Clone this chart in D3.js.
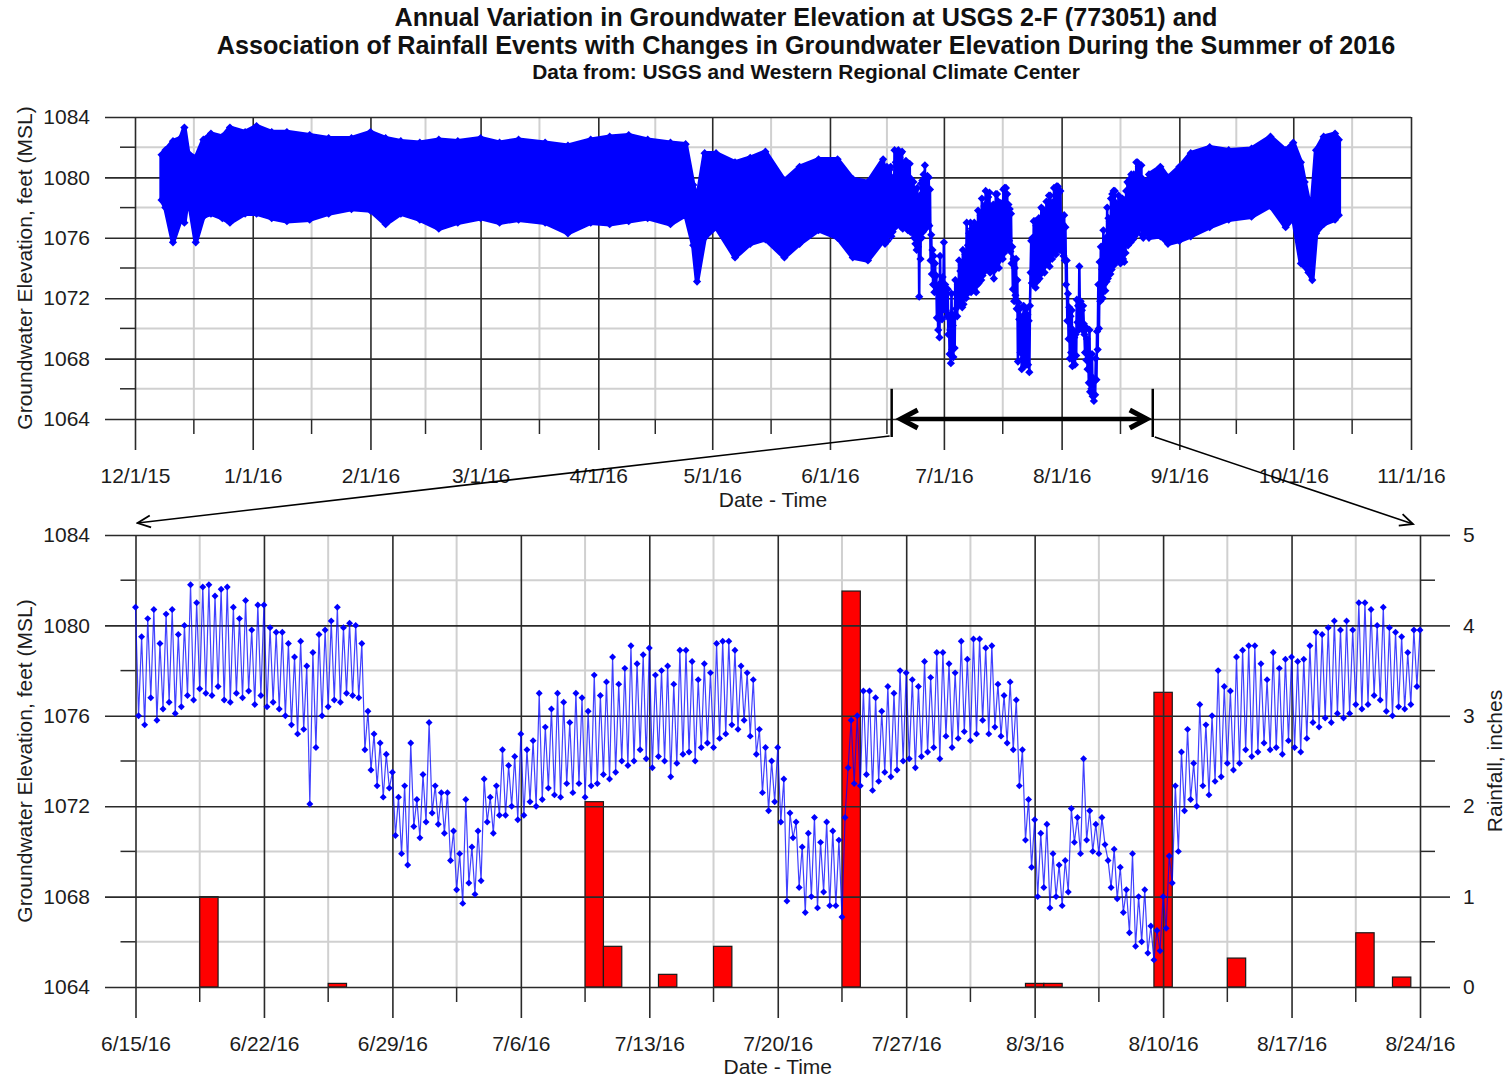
<!DOCTYPE html>
<html><head><meta charset="utf-8">
<script src="https://cdn.jsdelivr.net/npm/d3@7"></script>
<style>
body{margin:0;background:#fff;}
svg{display:block;}
</style></head><body>
<svg id="chart" width="1512" height="1080"></svg>
<script>
// ---------------- DATA ----------------
const titleLines = [
  "Annual Variation in Groundwater Elevation at USGS 2-F (773051) and",
  "Association of Rainfall Events with Changes in Groundwater Elevation During the Summer of 2016"
];
const subtitle = "Data from: USGS and Western Regional Climate Center";
const yTitle = "Groundwater Elevation, feet (MSL)";
const xTitle = "Date - Time";
const rainTitle = "Rainfall, inches";

const topTickDates = ["2015-12-01","2016-01-01","2016-02-01","2016-03-01","2016-04-01","2016-05-01",
  "2016-06-01","2016-07-01","2016-08-01","2016-09-01","2016-10-01","2016-11-01"];
const topTickLabels = ["12/1/15","1/1/16","2/1/16","3/1/16","4/1/16","5/1/16","6/1/16","7/1/16",
  "8/1/16","9/1/16","10/1/16","11/1/16"];
const botTickDates = ["2016-06-15","2016-06-22","2016-06-29","2016-07-06","2016-07-13","2016-07-20",
  "2016-07-27","2016-08-03","2016-08-10","2016-08-17","2016-08-24"];
const botTickLabels = ["6/15/16","6/22/16","6/29/16","7/6/16","7/13/16","7/20/16","7/27/16",
  "8/3/16","8/10/16","8/17/16","8/24/16"];
const elevTicks = [1064, 1068, 1072, 1076, 1080, 1084];
const rainTicks = [0, 1, 2, 3, 4, 5];

// Annual record outside the summer window: daily high / low envelope
const envDates = ["2015-12-08","2015-12-09","2015-12-11","2015-12-13","2015-12-14","2015-12-15","2015-12-17",
  "2015-12-19","2015-12-21","2015-12-24","2015-12-26","2015-12-30","2016-01-02","2016-01-06","2016-01-10",
  "2016-01-16","2016-01-21","2016-01-27","2016-02-01","2016-02-05","2016-02-09","2016-02-14","2016-02-19",
  "2016-02-24","2016-03-01","2016-03-06","2016-03-11","2016-03-18","2016-03-24","2016-03-30","2016-04-04",
  "2016-04-09","2016-04-14","2016-04-20","2016-04-24","2016-04-26","2016-04-27","2016-04-29","2016-05-02",
  "2016-05-07","2016-05-11","2016-05-15","2016-05-20","2016-05-24","2016-05-29","2016-06-03","2016-06-07",
  "2016-06-11","2016-06-15",
  "2016-08-24","2016-08-27","2016-08-29","2016-09-01","2016-09-04","2016-09-09","2016-09-14","2016-09-20",
  "2016-09-25","2016-09-29","2016-10-01","2016-10-03","2016-10-04","2016-10-05","2016-10-06","2016-10-07",
  "2016-10-09","2016-10-12","2016-10-13"];
const envHigh = [1081.5,1081.8,1082.4,1082.6,1083.3,1081.6,1081.3,
  1082.5,1082.9,1082.7,1083.3,1083.0,1083.4,1083.0,1083.0,
  1082.8,1082.6,1082.6,1083.0,1082.6,1082.4,1082.3,1082.5,
  1082.4,1082.6,1082.3,1082.5,1082.3,1082.1,1082.5,1082.7,
  1082.8,1082.5,1082.3,1082.2,1079.5,1078.5,1081.6,1081.6,
  1081.0,1081.3,1081.7,1079.8,1080.7,1081.2,1081.2,1079.9,
  1079.7,1081.2,
  1080.2,1080.7,1080.0,1080.7,1081.6,1082.0,1081.8,1081.9,
  1082.7,1081.8,1082.3,1081.0,1079.7,1078.5,1078.5,1081.8,
  1082.7,1082.9,1082.5];
const envLow = [1078.5,1078.0,1075.7,1077.2,1077.0,1078.8,1075.7,
  1077.4,1077.6,1077.3,1077.0,1077.6,1077.6,1077.3,1077.1,
  1077.2,1077.6,1077.9,1077.8,1076.9,1077.6,1077.2,1076.6,
  1077.0,1077.3,1077.0,1077.2,1077.0,1076.3,1077.0,1076.9,
  1077.1,1077.3,1076.9,1077.5,1075.5,1073.1,1076.0,1076.7,
  1074.7,1075.6,1075.9,1074.7,1075.6,1076.5,1076.0,1074.7,
  1074.5,1075.8,
  1076.0,1076.1,1075.6,1075.8,1076.1,1076.7,1077.2,1077.4,
  1078.1,1076.7,1077.3,1074.3,1074.1,1073.7,1073.2,1076.3,
  1076.9,1077.2,1077.5];

// Summer record, 6/15/16 00:00 onward, one reading every 4 hours
const summerStart = "2016-06-15T00:00";
const summerStepHours = 4;
const summerElev = [
  1080.8,1076.0,1079.5,1075.6,1080.3,1076.8,  1080.7,1075.8,1079.2,1076.3,1080.5,1076.6,
  1080.7,1076.1,1079.6,1076.4,1080.0,1076.9,  1081.8,1076.7,1081.0,1077.2,1081.7,1077.0,
  1081.8,1076.9,1081.3,1077.3,1081.6,1076.7,  1081.7,1076.6,1080.8,1077.0,1080.3,1076.8,
  1081.1,1077.1,1079.8,1076.5,1080.9,1076.9,  1080.9,1076.4,1079.9,1076.6,1079.7,1076.3,
  1079.7,1076.0,1079.2,1075.6,1078.6,1075.2,  1079.3,1075.4,1078.2,1072.1,1078.8,1074.6,
  1079.6,1076.0,1079.8,1076.4,1080.2,1076.7,  1080.8,1076.6,1079.9,1077.0,1080.1,1076.9,
  1080.0,1076.8,1079.2,1074.5,1076.2,1073.6,  1075.2,1072.9,1074.8,1072.4,1074.3,1072.8,
  1073.5,1070.7,1072.4,1069.9,1072.9,1069.4,  1074.8,1071.1,1072.3,1070.6,1073.4,1071.3,
  1075.7,1071.7,1072.9,1071.2,1072.6,1070.8,  1072.6,1069.6,1070.9,1068.3,1069.9,1067.7,
  1072.3,1068.6,1070.2,1068.1,1070.9,1068.7,  1073.2,1071.3,1072.4,1070.8,1072.9,1071.6,
  1074.5,1071.6,1073.8,1072.0,1074.2,1071.4,  1075.2,1071.6,1074.5,1072.2,1074.9,1072.0,
  1077.0,1072.3,1075.5,1072.8,1076.3,1072.5,  1077.0,1072.4,1076.6,1073.0,1075.7,1072.6,
  1077.0,1073.0,1076.8,1072.4,1076.2,1072.9,  1077.8,1073.0,1076.9,1073.4,1077.5,1073.2,
  1078.6,1073.5,1077.4,1074.0,1078.1,1073.8,  1079.1,1074.0,1078.3,1074.5,1078.7,1074.1,
  1079.0,1073.7,1077.8,1074.2,1078.0,1074.0,  1078.2,1073.3,1077.4,1073.9,1078.9,1074.3,
  1078.9,1074.4,1078.4,1074.0,1077.6,1074.6,  1078.3,1074.8,1077.9,1074.6,1079.2,1075.0,
  1079.3,1075.2,1079.3,1075.6,1078.9,1075.4,  1078.2,1075.8,1077.9,1075.1,1077.6,1074.3,
  1075.4,1072.6,1074.6,1071.8,1074.0,1072.2,  1074.6,1071.3,1073.2,1067.8,1071.7,1070.6,
  1071.3,1068.4,1070.2,1067.3,1070.8,1068.0,  1071.5,1067.5,1070.4,1068.2,1071.3,1067.6,
  1070.9,1067.6,1070.5,1067.1,1071.5,1073.7,  1075.8,1073.0,1076.0,1072.9,1077.1,1073.4,
  1077.1,1072.7,1076.8,1073.1,1076.2,1073.5,  1077.3,1073.3,1077.0,1073.6,1078.0,1074.0,
  1077.9,1074.1,1077.6,1073.7,1077.3,1074.2,  1078.4,1074.4,1077.7,1074.6,1078.8,1074.1,
  1078.8,1075.1,1078.3,1074.6,1077.9,1075.0,  1079.3,1075.3,1078.5,1074.9,1079.4,1075.2,
  1079.4,1075.8,1079.0,1075.2,1079.1,1075.5,  1077.4,1075.1,1076.9,1074.8,1077.5,1074.5,
  1076.7,1072.9,1074.5,1070.5,1072.3,1069.3,  1071.4,1068.0,1070.8,1068.4,1071.2,1067.5,
  1069.9,1068.0,1069.4,1067.6,1069.6,1068.2,  1071.9,1070.4,1071.5,1069.9,1074.1,1070.5,
  1071.8,1070.0,1071.2,1069.9,1071.5,1070.3,  1069.6,1068.4,1070.1,1067.9,1069.3,1067.3,
  1068.3,1066.4,1069.9,1065.8,1068.0,1066.0,  1068.3,1065.5,1066.7,1065.2,1066.5,1065.6,
  1068.0,1066.6,1069.8,1068.6,1072.9,1070.0,  1074.4,1071.8,1075.4,1072.3,1073.9,1072.0,
  1076.5,1072.9,1075.6,1072.5,1076.0,1073.1,  1078.0,1073.3,1077.3,1073.9,1077.1,1073.6,
  1078.6,1073.9,1078.9,1074.5,1079.1,1074.2,  1079.1,1074.4,1078.3,1074.8,1077.6,1074.5,
  1078.8,1074.6,1078.1,1074.3,1078.5,1074.9,  1078.6,1074.6,1078.4,1074.4,1078.5,1075.0,
  1079.1,1075.7,1079.7,1075.5,1079.6,1075.9,  1079.9,1075.7,1080.2,1076.1,1079.8,1075.9,
  1080.2,1076.1,1079.8,1076.5,1081.0,1076.3,  1081.0,1076.5,1080.7,1076.9,1080.0,1076.7,
  1080.8,1076.2,1079.9,1076.0,1079.7,1076.4,  1079.5,1076.3,1078.8,1076.5,1079.8,1077.3,
  1079.8
];

// Daily rainfall (inches)
const rainDates = ["2016-06-19","2016-06-26","2016-07-10","2016-07-11","2016-07-14","2016-07-17",
  "2016-07-24","2016-08-03","2016-08-04","2016-08-10","2016-08-14","2016-08-21","2016-08-23"];
const rainInches = [1.0, 0.04, 2.05, 0.45, 0.14, 0.45, 4.38, 0.04, 0.04, 3.26, 0.32, 0.6, 0.11];

// Zoom window annotated on the annual panel
const zoomSpan = ["2016-06-17T06:00", "2016-08-25T00:00"];

// ---------------- DRAWING ----------------
const FONT = "'Liberation Sans', Arial, Helvetica, sans-serif";
const MAJOR = "#2a2a2a", MINOR = "#d0d0d0", TEXT = "#1c1c1c", BLUE = "#0000ff";
const svg = d3.select("#chart").attr("font-family", FONT);
const pDay = d3.timeParse("%Y-%m-%d");
const pTime = d3.timeParse("%Y-%m-%dT%H:%M");

const T = {l:135, r:1411, t:117, b:419};
const B = {l:135.5, r:1420, t:535, b:987};

const xTop = d3.scaleTime().domain(d3.extent(topTickDates, pDay)).range([T.l, T.r]);
const yTop = d3.scaleLinear().domain(d3.extent(elevTicks)).range([T.b, T.t]);
const xBot = d3.scaleTime().domain(d3.extent(botTickDates, pDay)).range([B.l, B.r]);
const yBot = d3.scaleLinear().domain(d3.extent(elevTicks)).range([B.b, B.t]);
const yRain = d3.scaleLinear().domain(d3.extent(rainTicks)).range([B.b, B.t]);

const midDates = arr => arr.slice(1).map((d, i) => new Date((+arr[i] + +d) / 2));
const midNums = arr => arr.slice(1).map((d, i) => (arr[i] + d) / 2);

// Titles
svg.append("g").selectAll("text").data(titleLines).join("text")
  .attr("x", 806).attr("y", (d, i) => 26 + i * 28)
  .attr("text-anchor", "middle").attr("font-weight", "bold").attr("font-size", 25.2)
  .attr("fill", "#111").text(d => d);
svg.append("text").attr("x", 806).attr("y", 79).attr("text-anchor", "middle")
  .attr("font-weight", "bold").attr("font-size", 20.9).attr("fill", "#111").text(subtitle);

function lightGrid(P, x, y, xDates, yVals, rightTicks) {
  const g = svg.append("g");
  const yMin = midNums(yVals), xMin = midDates(xDates);
  g.selectAll(".hy").data(yMin).join("line").attr("class", "hy")
    .attr("x1", P.l).attr("x2", P.r).attr("y1", d => y(d)).attr("y2", d => y(d))
    .attr("stroke", MINOR).attr("stroke-width", 2);
  g.selectAll(".vx").data(xMin).join("line").attr("class", "vx")
    .attr("x1", d => x(d)).attr("x2", d => x(d)).attr("y1", P.t).attr("y2", P.b)
    .attr("stroke", MINOR).attr("stroke-width", 2);
  g.selectAll(".ty").data(yMin).join("line").attr("class", "ty")
    .attr("x1", P.l - 15).attr("x2", P.l).attr("y1", d => y(d)).attr("y2", d => y(d))
    .attr("stroke", MAJOR).attr("stroke-width", 1.5);
  if (rightTicks) g.selectAll(".tyr").data(yMin).join("line").attr("class", "tyr")
    .attr("x1", P.r).attr("x2", P.r + 15).attr("y1", d => y(d)).attr("y2", d => y(d))
    .attr("stroke", MAJOR).attr("stroke-width", 1.5);
  g.selectAll(".tx").data(xMin).join("line").attr("class", "tx")
    .attr("x1", d => x(d)).attr("x2", d => x(d)).attr("y1", P.b).attr("y2", P.b + 15)
    .attr("stroke", MAJOR).attr("stroke-width", 1.5);
}

function styleAxis(g) {
  g.attr("font-family", FONT).attr("font-size", 21);
  g.select(".domain").remove();
  g.selectAll(".tick line").attr("stroke", MAJOR).attr("stroke-width", 1.6);
  g.selectAll(".tick text").attr("fill", TEXT);
}

function majorAxes(P, x, y, xDates, xLabels, yVals) {
  const xd = xDates.map(pDay);
  svg.append("g").attr("transform", `translate(0,${P.t})`)
    .call(d3.axisBottom(x).tickValues(xd).tickSize(P.b + 31 - P.t).tickPadding(18)
      .tickFormat((d, i) => xLabels[i]))
    .call(styleAxis);
  svg.append("g").attr("transform", `translate(${P.r},0)`)
    .call(d3.axisLeft(y).tickValues(yVals).tickSize(P.r - 105).tickPadding(15).tickFormat(d3.format("d")))
    .call(styleAxis);
}

// ---- Top panel ----
lightGrid(T, xTop, yTop, topTickDates.map(pDay), elevTicks, false);
majorAxes(T, xTop, yTop, topTickDates, topTickLabels, elevTicks);

const summerT0 = pTime(summerStart);
const summerPts = summerElev.map((v, i) => ({t: d3.timeHour.offset(summerT0, i * summerStepHours), v}));
const summerEnd = summerPts[summerPts.length - 1].t;
const envPts = envDates.map((d, i) => ({t: pDay(d), hi: envHigh[i], lo: envLow[i]}));
const envSegs = [envPts.filter(d => d.t <= summerT0), envPts.filter(d => d.t >= summerEnd)];

const envArea = d3.area().x(d => xTop(d.t)).y0(d => yTop(d.lo)).y1(d => yTop(d.hi));
svg.append("g").selectAll("path").data(envSegs).join("path")
  .attr("d", envArea).attr("fill", BLUE).attr("stroke", BLUE)
  .attr("stroke-width", 4.5).attr("stroke-linejoin", "round");
// markers along the envelope edges
const edgePts = envPts.flatMap(d => [{t: d.t, v: d.hi}, {t: d.t, v: d.lo}]);
const diamondTop = d3.symbol().type(d3.symbolSquare).size(34);
svg.append("g").selectAll("path").data(edgePts).join("path")
  .attr("d", diamondTop).attr("fill", BLUE)
  .attr("transform", d => `translate(${xTop(d.t)},${yTop(d.v)}) rotate(45)`);

svg.append("path").datum(summerPts)
  .attr("d", d3.line().x(d => xTop(d.t)).y(d => yTop(d.v)))
  .attr("fill", "none").attr("stroke", BLUE).attr("stroke-width", 2.6);
svg.append("g").selectAll("path").data(summerPts).join("path")
  .attr("d", diamondTop).attr("fill", BLUE)
  .attr("transform", d => `translate(${xTop(d.t)},${yTop(d.v)}) rotate(45)`);

// ---- Bottom panel ----
lightGrid(B, xBot, yBot, botTickDates.map(pDay), elevTicks, true);

svg.append("g").selectAll("rect").data(rainDates.map((d, i) => ({t: pDay(d), v: rainInches[i]})))
  .join("rect")
  .attr("x", d => xBot(d3.timeHour.offset(d.t, -12)))
  .attr("width", d => xBot(d3.timeHour.offset(d.t, 12)) - xBot(d3.timeHour.offset(d.t, -12)))
  .attr("y", d => yRain(d.v)).attr("height", d => yRain(0) - yRain(d.v))
  .attr("fill", "#ff0000").attr("stroke", "#1a1a1a").attr("stroke-width", 1.2);

majorAxes(B, xBot, yBot, botTickDates, botTickLabels, elevTicks);
svg.append("g").attr("transform", `translate(${B.r},0)`)
  .call(d3.axisRight(yRain).tickValues(rainTicks).tickSize(30).tickPadding(13).tickFormat(d3.format("d")))
  .call(styleAxis);

const diamond = d3.symbol().type(d3.symbolSquare).size(24);
svg.append("path").datum(summerPts)
  .attr("d", d3.line().x(d => xBot(d.t)).y(d => yBot(d.v)))
  .attr("fill", "none").attr("stroke", BLUE).attr("stroke-opacity", 0.75).attr("stroke-width", 1.2);
svg.append("g").selectAll("path").data(summerPts).join("path")
  .attr("d", diamond).attr("fill", BLUE)
  .attr("transform", d => `translate(${xBot(d.t)},${yBot(d.v)}) rotate(45)`);

// ---- Axis titles ----
function rotTitle(x, y, txt) {
  svg.append("text").attr("transform", `translate(${x},${y}) rotate(-90)`)
    .attr("text-anchor", "middle").attr("dy", "0.35em").attr("font-size", 21)
    .attr("fill", TEXT).text(txt);
}
rotTitle(25, (T.t + T.b) / 2, yTitle);
rotTitle(25, (B.t + B.b) / 2, yTitle);
rotTitle(1495, (B.t + B.b) / 2, rainTitle);
svg.append("text").attr("x", (T.l + T.r) / 2).attr("y", 507).attr("text-anchor", "middle")
  .attr("font-size", 21).attr("fill", TEXT).text(xTitle);
svg.append("text").attr("x", (B.l + B.r) / 2).attr("y", 1074).attr("text-anchor", "middle")
  .attr("font-size", 21).attr("fill", TEXT).text(xTitle);

// ---- Zoom annotation ----
const defs = svg.append("defs");
defs.append("marker").attr("id", "chev").attr("viewBox", "-15 -8 17 16")
  .attr("refX", 0).attr("refY", 0).attr("markerWidth", 17).attr("markerHeight", 16)
  .attr("markerUnits", "userSpaceOnUse").attr("orient", "auto")
  .append("path").attr("d", "M-13,-6L0,0L-13,6").attr("fill", "none")
  .attr("stroke", "#000").attr("stroke-width", 1.8);

const xa = xTop(pTime(zoomSpan[0])), xb = xTop(pTime(zoomSpan[1]));
const ann = svg.append("g").attr("stroke", "#000").attr("fill", "none");
[xa, xb].forEach(xx => ann.append("line").attr("x1", xx).attr("x2", xx)
  .attr("y1", yTop(1066)).attr("y2", T.b + 18).attr("stroke-width", 2.5));
const ay = yTop(elevTicks[0]);
ann.append("line").attr("x1", xa + 9).attr("x2", xb - 6).attr("y1", ay).attr("y2", ay).attr("stroke-width", 4.5);
ann.append("path").attr("d", `M${xa + 26},${ay - 9}L${xa + 9},${ay}L${xa + 26},${ay + 9}`)
  .attr("stroke-width", 5).attr("stroke-linejoin", "miter");
ann.append("path").attr("d", `M${xb - 23},${ay - 9}L${xb - 6},${ay}L${xb - 23},${ay + 9}`)
  .attr("stroke-width", 5).attr("stroke-linejoin", "miter");
ann.append("line").attr("x1", xa - 2).attr("y1", T.b + 17).attr("x2", B.l + 2).attr("y2", B.t - 12)
  .attr("stroke-width", 1.6).attr("marker-end", "url(#chev)");
ann.append("line").attr("x1", xb + 2).attr("y1", T.b + 18).attr("x2", B.r - 7).attr("y2", B.t - 11)
  .attr("stroke-width", 1.6).attr("marker-end", "url(#chev)");
</script>
</body></html>
